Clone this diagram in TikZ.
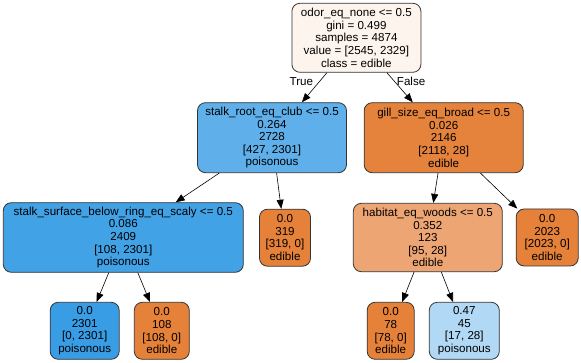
\documentclass[tikz,border=0pt]{standalone}
\usepackage{fontspec}
\setmainfont{Liberation Sans}
\usetikzlibrary{arrows.meta}

\definecolor{rootfill}{RGB}{253,244,238}
\definecolor{edible}{RGB}{229,129,57}
\definecolor{poison}{RGB}{57,157,229}
\definecolor{clubfill}{RGB}{94,175,234}
\definecolor{gillfill}{RGB}{229,131,60}
\definecolor{scalyfill}{RGB}{66,162,230}
\definecolor{woodsfill}{RGB}{237,166,115}
\definecolor{mixfill}{RGB}{177,217,245}

\begin{document}
\begin{tikzpicture}[x=1pt, y=-1pt,
		treenode/.style={draw=black!80, line width=0.8pt, rounded corners=8pt, align=center, inner sep=0pt,
			font=\fontsize{11.6}{12.6}\selectfont},
		edge/.style={-{Triangle[length=9pt,width=7pt]}, black, line width=0.6pt},
		edgelabel/.style={font=\fontsize{11.6}{12.6}\selectfont, inner sep=0pt}]
		\useasboundingbox (0,0) rectangle (581,363);
		
		% 根节点
		\node[treenode, fill=rootfill, minimum width=129pt, minimum height=69pt] (odor) at (356.4,37.8)
			{odor\_eq\_none <= 0.5\\gini = 0.499\\samples = 4874\\value = [2545, 2329]\\class = edible};
		
		% 第二层
		\node[treenode, fill=clubfill, minimum width=149pt, minimum height=70pt] (club) at (272,137.7)
			{stalk\_root\_eq\_club <= 0.5\\0.264\\2728\\{[427, 2301]}\\poisonous};
		\node[treenode, fill=gillfill, minimum width=159pt, minimum height=70pt] (gill) at (443.7,137.7)
			{gill\_size\_eq\_broad <= 0.5\\0.026\\2146\\{[2118, 28]}\\edible};
		
		% 第三层
		\node[treenode, fill=scalyfill, minimum width=240pt, minimum height=69.6pt] (scaly) at (123.3,237.5)
			{stalk\_surface\_below\_ring\_eq\_scaly <= 0.5\\0.086\\2409\\{[108, 2301]}\\poisonous};
		\node[treenode, fill=edible, minimum width=51pt, minimum height=57pt] (leafA) at (285,237.7)
			{0.0\\319\\{[319, 0]}\\edible};
		\node[treenode, fill=woodsfill, minimum width=149pt, minimum height=68.4pt] (woods) at (427.8,237.5)
			{habitat\_eq\_woods <= 0.5\\0.352\\123\\{[95, 28]}\\edible};
		\node[treenode, fill=edible, minimum width=62pt, minimum height=57pt] (leafB) at (547.2,237.5)
			{0.0\\2023\\{[2023, 0]}\\edible};
		
		% 叶子
		\node[treenode, fill=poison, minimum width=69pt, minimum height=57pt] (leafC) at (84.7,330.8)
			{0.0\\2301\\{[0, 2301]}\\poisonous};
		\node[treenode, fill=edible, minimum width=55pt, minimum height=57pt] (leafD) at (161.8,330.8)
			{0.0\\108\\{[108, 0]}\\edible};
		\node[treenode, fill=edible, minimum width=47pt, minimum height=57pt] (leafE) at (390.7,330.8)
			{0.0\\78\\{[78, 0]}\\edible};
		\node[treenode, fill=mixfill, minimum width=70pt, minimum height=57pt] (leafF) at (464.3,330.8)
			{0.47\\45\\{[17, 28]}\\poisonous};
		
		% 连线
		\draw[edge] (odor) -- (club) node[edgelabel, pos=0.3, left=6pt] (lblTrue) {True};
		\draw[edge] (odor) -- (gill) node[edgelabel, pos=0.3, right=2pt] (lblFalse) {False};
		\draw[edge] (club) -- (scaly);
		\draw[edge] (club) -- (leafA);
		\draw[edge] (gill) -- (woods);
		\draw[edge] (gill) -- (leafB);
		\draw[edge] (scaly) -- (leafC);
		\draw[edge] (scaly) -- (leafD);
		\draw[edge] (woods) -- (leafE);
		\draw[edge] (woods) -- (leafF);
	\end{tikzpicture}
\end{document}
